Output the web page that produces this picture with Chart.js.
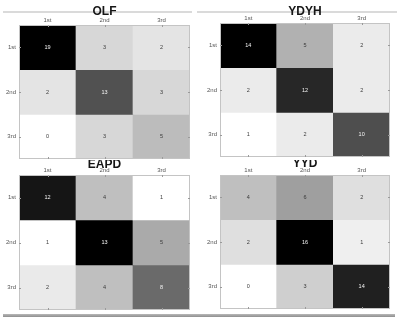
<!DOCTYPE html>
<html>
<head>
<meta charset="utf-8">
<script src="https://cdn.jsdelivr.net/npm/chart.js@4/dist/chart.umd.min.js"></script>
<style>
  html, body { margin: 0; padding: 0; background: #fff; }
  #wrap { position: relative; width: 397px; height: 322px; overflow: hidden; }
  .pane { position: absolute; }
  .rule { position: absolute; }
</style>
</head>
<body>
<div id="wrap">
  <div class="rule" style="left:3px;top:11px;width:189px;height:1.5px;background:#dadada"></div>
  <div class="rule" style="left:197px;top:11px;width:200px;height:1.5px;background:#dadada"></div>
  <div class="rule" style="left:3px;top:314px;width:392px;height:3px;background:linear-gradient(#b8b8b8,#8f8f8f)"></div>
  <div class="pane" style="left:0;top:0;width:198px;height:160px"><canvas id="c0"></canvas></div>
  <div class="pane" style="left:198px;top:0;width:199px;height:160px"><canvas id="c1"></canvas></div>
  <div class="pane" style="left:0;top:160px;width:198px;height:162px"><canvas id="c2"></canvas></div>
  <div class="pane" style="left:198px;top:160px;width:199px;height:162px"><canvas id="c3"></canvas></div>
</div>
<script>
// Class labels (rows = true class, columns = predicted class)
const classLabels = ['1st', '2nd', '3rd'];

// Confusion counts, one matrix per group
const olfCounts  = [[19, 3, 2], [2, 13, 3], [0, 3, 5]];
const ydyhCounts = [[14, 5, 2], [2, 12, 2], [1, 2, 10]];
const eapdCounts = [[12, 4, 1], [1, 13, 5], [2, 4, 8]];
const yydCounts  = [[4, 6, 2], [2, 16, 1], [0, 3, 14]];

const groupTitles = ['OLF', 'YDYH', 'EAPD', 'YYD'];

// Layout of each panel inside its canvas
const panels = [
  { id: 'c0', title: groupTitles[0], counts: olfCounts,  yW: 19, xH: 25, pad: { left: 0, right: 8, top: 0, bottom: 1 },  titleY: 12 },
  { id: 'c1', title: groupTitles[1], counts: ydyhCounts, yW: 22, xH: 23, pad: { left: 0, right: 7, top: 0, bottom: 3 },  titleY: 12 },
  { id: 'c2', title: groupTitles[2], counts: eapdCounts, yW: 19, xH: 15, pad: { left: 0, right: 8, top: 0, bottom: 12 }, titleY: 5 },
  { id: 'c3', title: groupTitles[3], counts: yydCounts,  yW: 22, xH: 15, pad: { left: 0, right: 7, top: 0, bottom: 13 }, titleY: 4 }
];

const FONT = '"Liberation Sans", Arial, Helvetica, sans-serif';

// Gray level from white (smallest count) to black (largest count)
function grayScale(counts) {
  const flat = counts.flat();
  const lo = Math.min(...flat), hi = Math.max(...flat);
  return v => Math.round(255 * (1 - (v - lo) / (hi - lo)));
}

const matrixDecor = {
  id: 'matrixDecor',
  afterDatasetsDraw(chart, args, opts) {
    const { ctx, chartArea: a } = chart;
    const shade = grayScale(opts.counts);
    ctx.save();
    // count written at the centre of each cell
    ctx.font = '5.5px ' + FONT;
    ctx.textAlign = 'center';
    ctx.textBaseline = 'middle';
    chart.data.datasets.forEach((ds, r) => {
      chart.getDatasetMeta(r).data.forEach((bar, c) => {
        const v = opts.counts[r][c];
        const p = bar.getCenterPoint();
        ctx.fillStyle = shade(v) < 128 ? '#f4f4f4' : '#3a3a3a';
        ctx.fillText(String(v), p.x, p.y);
      });
    });
    // axes frame
    ctx.strokeStyle = '#c4c4c4';
    ctx.lineWidth = 1;
    ctx.strokeRect(a.left + 0.5, a.top + 0.5, a.width - 1, a.height - 1);
    // short inward tick marks on all four sides
    ctx.strokeStyle = '#9a9a9a';
    ctx.beginPath();
    const xs = chart.scales.x, ys = chart.scales.y;
    classLabels.forEach((_, i) => {
      const x = Math.round(xs.getPixelForTick(i)) + 0.5;
      ctx.moveTo(x, a.top); ctx.lineTo(x, a.top + 2);
      ctx.moveTo(x, a.bottom); ctx.lineTo(x, a.bottom - 2);
      const y = Math.round(ys.getPixelForValue(i + 0.5)) + 0.5;
      ctx.moveTo(a.left, y); ctx.lineTo(a.left + 2, y);
      ctx.moveTo(a.right, y); ctx.lineTo(a.right - 2, y);
    });
    ctx.stroke();
    // group title
    ctx.font = 'bold 12px ' + FONT;
    ctx.fillStyle = '#161616';
    ctx.textBaseline = 'middle';
    ctx.fillText(opts.title, (a.left + a.right) / 2, opts.titleY);
    ctx.restore();
  }
};

panels.forEach(p => {
  const shade = grayScale(p.counts);
  const datasets = p.counts.map((row, r) => ({
    data: row.map(() => [r, r + 1]),
    backgroundColor: row.map(v => { const g = shade(v); return `rgb(${g},${g},${g})`; }),
    borderWidth: 0,
    barPercentage: 1,
    categoryPercentage: 1,
    grouped: false
  }));

  new Chart(document.getElementById(p.id), {
    type: 'bar',
    data: { labels: classLabels, datasets },
    options: {
      responsive: true,
      maintainAspectRatio: false,
      animation: false,
      devicePixelRatio: 1,
      layout: { padding: p.pad },
      plugins: {
        legend: { display: false },
        tooltip: { enabled: false },
        title: { display: false },
        matrixDecor: { counts: p.counts, title: p.title, titleY: p.titleY }
      },
      scales: {
        x: {
          position: 'top',
          grid: { display: false, drawTicks: false },
          border: { display: false },
          ticks: { font: { family: FONT, size: 6 }, color: '#555', padding: 1, maxRotation: 0 },
          afterFit(s) { s.height = p.xH; s.paddingLeft = 0; s.paddingRight = 0; }
        },
        y: {
          min: 0, max: 3, reverse: true,
          grid: { display: false, drawTicks: false },
          border: { display: false },
          afterBuildTicks(s) { s.ticks = classLabels.map((_, i) => ({ value: i + 0.5 })); },
          ticks: {
            font: { family: FONT, size: 6 }, color: '#555', padding: 3,
            callback: v => classLabels[Math.floor(v)]
          },
          afterFit(s) { s.width = p.yW; s.paddingTop = 0; s.paddingBottom = 0; }
        }
      }
    },
    plugins: [matrixDecor]
  });
});
</script>
</body>
</html>
